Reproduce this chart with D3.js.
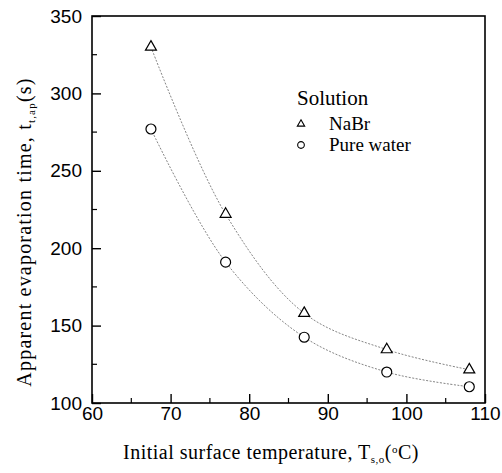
<!DOCTYPE html>
<html>
<head>
<meta charset="utf-8">
<script src="https://cdn.jsdelivr.net/npm/d3@7"></script>
<style>
  body { margin: 0; background: #fff; }
  svg { display: block; }
</style>
</head>
<body>
<svg id="chart" width="502" height="473"></svg>
<script>
// data
const temps = [67.5, 77, 87, 97.5, 108];
const nabr = [330, 222, 158, 134.5, 121.5];
const pureWater = [277, 191, 142.5, 120, 110.5];
const xTicks = [60, 70, 80, 90, 100, 110];
const yTicks = [100, 150, 200, 250, 300, 350];

const W = 502, H = 473;
const margin = {left: 92, top: 16, right: 17, bottom: 70};

const svg = d3.select('#chart');

const x = d3.scaleLinear().domain([60, 110]).range([margin.left, W - margin.right]);
const y = d3.scaleLinear().domain([100, 350]).range([H - margin.bottom, margin.top]);

const SANS = 'Liberation Sans, Arial, sans-serif';
const SERIF = 'Liberation Serif, Times New Roman, serif';

// frame
svg.append('rect')
  .attr('x', x(60)).attr('y', y(350))
  .attr('width', x(110) - x(60)).attr('height', y(100) - y(350))
  .attr('fill', 'none').attr('stroke', '#000').attr('stroke-width', 1.6);

// x axis, ticks pointing inward
const xAxis = svg.append('g')
  .attr('transform', `translate(0,${y(100)})`)
  .call(d3.axisBottom(x).tickValues(xTicks).tickSize(-9).tickPadding(4).tickFormat(d3.format('d')));
xAxis.select('.domain').remove();
xAxis.selectAll('line').attr('stroke-width', 1.4);
xAxis.selectAll('text').attr('font-family', SANS).attr('font-size', 19).attr('fill', '#000');

svg.append('g').selectAll('line')
  .data(d3.range(65, 110, 10))
  .join('line')
    .attr('x1', d => x(d)).attr('x2', d => x(d))
    .attr('y1', y(100)).attr('y2', y(100) - 5)
    .attr('stroke', '#000').attr('stroke-width', 1.2);

// y axis
const yAxis = svg.append('g')
  .attr('transform', `translate(${x(60)},0)`)
  .call(d3.axisLeft(y).tickValues(yTicks).tickSize(-9).tickPadding(10).tickFormat(d3.format('d')));
yAxis.select('.domain').remove();
yAxis.selectAll('line').attr('stroke-width', 1.4);
yAxis.selectAll('text').attr('font-family', SANS).attr('font-size', 19).attr('fill', '#000');

svg.append('g').selectAll('line')
  .data(d3.range(125, 350, 50))
  .join('line')
    .attr('x1', x(60)).attr('x2', x(60) + 5)
    .attr('y1', d => y(d)).attr('y2', d => y(d))
    .attr('stroke', '#000').attr('stroke-width', 1.2);

// axis titles
const xTitle = svg.append('text')
  .attr('x', 271).attr('y', 459)
  .attr('text-anchor', 'middle')
  .attr('letter-spacing', 0.5)
  .attr('font-family', SERIF).attr('font-size', 20);
xTitle.append('tspan').text('Initial surface temperature, T');
xTitle.append('tspan').attr('font-size', 11).attr('dy', 4).text('s,o');
xTitle.append('tspan').attr('dy', -4).text('(');
xTitle.append('tspan').attr('font-size', 11).attr('dy', -6).text('o');
xTitle.append('tspan').attr('dy', 6).text('C)');

const yTitle = svg.append('text')
  .attr('transform', `translate(31,232) rotate(-90)`)
  .attr('text-anchor', 'middle')
  .attr('letter-spacing', 1.2)
  .attr('font-family', SERIF).attr('font-size', 20);
yTitle.append('tspan').text('Apparent  evaporation time, t');
yTitle.append('tspan').attr('font-size', 11).attr('dy', 4).text('t,ap');
yTitle.append('tspan').attr('dy', -4).text('(s)');

// series
const series = [
  {name: 'NaBr', values: nabr, symbol: d3.symbolTriangle, size: 52},
  {name: 'Pure water', values: pureWater, symbol: d3.symbolCircle, size: 78},
];

const line = d3.line()
  .x(d => x(d[0]))
  .y(d => y(d[1]))
  .curve(d3.curveCatmullRom.alpha(0.5));

series.forEach(s => {
  const pts = temps.map((t, i) => [t, s.values[i]]);
  svg.append('path')
    .datum(pts)
    .attr('d', line)
    .attr('fill', 'none')
    .attr('stroke', '#777')
    .attr('stroke-width', 0.9)
    .attr('stroke-dasharray', '2,1.5');

  svg.append('g').selectAll('path')
    .data(pts)
    .join('path')
      .attr('transform', d => `translate(${x(d[0])},${y(d[1])})`)
      .attr('d', d3.symbol().type(s.symbol).size(s.size))
      .attr('fill', '#fff')
      .attr('stroke', '#000')
      .attr('stroke-width', 1.2);
});

// legend
const legend = svg.append('g').attr('font-family', SERIF);
legend.append('text')
  .attr('x', 297).attr('y', 105)
  .attr('font-size', 21)
  .text('Solution');

series.forEach((s, i) => {
  const ly = 124 + i * 21;
  legend.append('path')
    .attr('transform', `translate(301,${ly})`)
    .attr('d', d3.symbol().type(s.symbol).size(s.size * 0.45))
    .attr('fill', '#fff')
    .attr('stroke', '#000')
    .attr('stroke-width', 1.1);
  legend.append('text')
    .attr('x', 329).attr('y', ly + 6)
    .attr('font-size', 19)
    .text(s.name);
});
</script>
</body>
</html>
